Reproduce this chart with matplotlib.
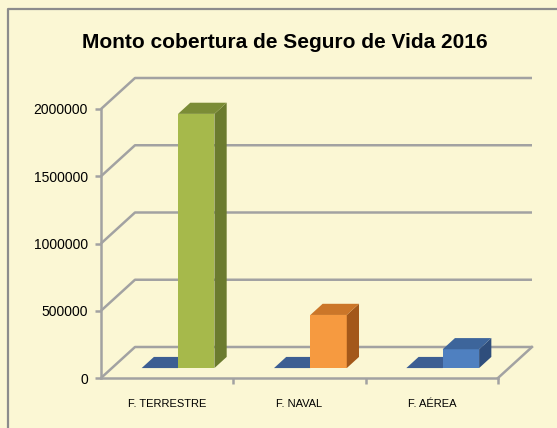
import matplotlib
matplotlib.use("Agg")
import matplotlib.pyplot as plt
from matplotlib.patches import Polygon

# --- datos ---
categorias = ["F. TERRESTRE", "F. NAVAL", "F. AÉREA"]
serie_base = [0, 0, 0]                      # serie plana (azul) casi cero
monto = [1890000, 395000, 140000]
ticks_y = [0, 500000, 1000000, 1500000, 2000000]
titulo = "Monto cobertura de Seguro de Vida 2016"

# colores (frente, arriba, lado)
col_monto = [("#A6B94B", "#7B8C36", "#6B7B2E"),
             ("#F69A40", "#CB7629", "#A3581A"),
             ("#4F80C0", "#3D659B", "#2F4E7C")]
col_base = ("#3C5E93", "#3C5E93", "#2F4E7C")

BG = "#FBF7D4"
GRID = "#A2A2A2"
W, H = 557, 428
plt.rcParams["font.family"] = ["Liberation Sans", "DejaVu Sans"]

fig = plt.figure(figsize=(W / 100, H / 100), dpi=100, facecolor=BG)

# marco exterior
frame = fig.add_axes([0, 0, 1, 1])
frame.set_xlim(0, W); frame.set_ylim(H, 0); frame.axis("off")
frame.plot([8, 8, W + 5], [H + 5, 9, 9], color="#8C8C8C", lw=1.6)

# plano frontal del grafico
x0p, x1p, y0p, y1p = 101, 498, 378, 109
ax = fig.add_axes([x0p / W, 1 - y0p / H, (x1p - x0p) / W, (y0p - y1p) / H])
ax.set_facecolor("none")
n = len(categorias)
ymax = ticks_y[-1]
ax.set_xlim(0, n); ax.set_ylim(0, ymax)
# profundidad (px -> datos)
ddx = 34 / ((x1p - x0p) / n)
ddy = 31 / (y0p - y1p) * ymax

# paredes / lineas de cuadricula
for v in ticks_y:
    ax.plot([0, ddx, n + ddx], [v, v + ddy, v + ddy], color=GRID, lw=1.8,
            clip_on=False, zorder=1, solid_capstyle="butt")
ax.plot([n, n + ddx], [0, ddy], color=GRID, lw=1.8, clip_on=False, zorder=1)

f0, f1 = 0.32, 0.68
bw = 0.275


def barra(xa, xb, v, cols):
    fr, tp, sd = cols
    a0, b0 = f0 * ddx, f0 * ddy
    a1, b1 = f1 * ddx, f1 * ddy
    if v > 0:
        ax.add_patch(Polygon([(xa + a0, b0), (xb + a0, b0), (xb + a0, v + b0), (xa + a0, v + b0)],
                             closed=True, fc=fr, ec="none", zorder=3, clip_on=False))
        ax.add_patch(Polygon([(xb + a0, b0), (xb + a1, b1), (xb + a1, v + b1), (xb + a0, v + b0)],
                             closed=True, fc=sd, ec="none", zorder=3, clip_on=False))
    ax.add_patch(Polygon([(xa + a0, v + b0), (xb + a0, v + b0), (xb + a1, v + b1), (xa + a1, v + b1)],
                         closed=True, fc=tp, ec="none", zorder=3, clip_on=False))


for i in range(n):
    c = i + 0.5
    barra(c - bw, c, serie_base[i], col_base)
    barra(c, c + bw, monto[i], col_monto[i])

# ejes
for s in ["top", "right"]:
    ax.spines[s].set_visible(False)
for s in ["left", "bottom"]:
    ax.spines[s].set_color(GRID)
    ax.spines[s].set_linewidth(1.8)
    ax.spines[s].set_zorder(2)
ax.set_yticks(ticks_y)
ax.set_yticklabels([str(t) for t in ticks_y], fontsize=10)
ax.tick_params(axis="y", length=4, width=1.8, color=GRID, pad=5.5)
ax.set_xticks([i + 0.5 for i in range(n)])
ax.set_xticklabels(categorias, fontsize=8)
ax.set_xticks(list(range(1, n + 1)), minor=True)
ax.tick_params(axis="x", which="major", length=0, pad=15)
ax.tick_params(axis="x", which="minor", length=4, width=1.8, color=GRID)

fig.text(285 / W, 1 - 47.7 / H, titulo, ha="center", va="baseline",
         fontsize=15, fontweight="bold")

fig.savefig("out.png", dpi=100, facecolor=BG)
